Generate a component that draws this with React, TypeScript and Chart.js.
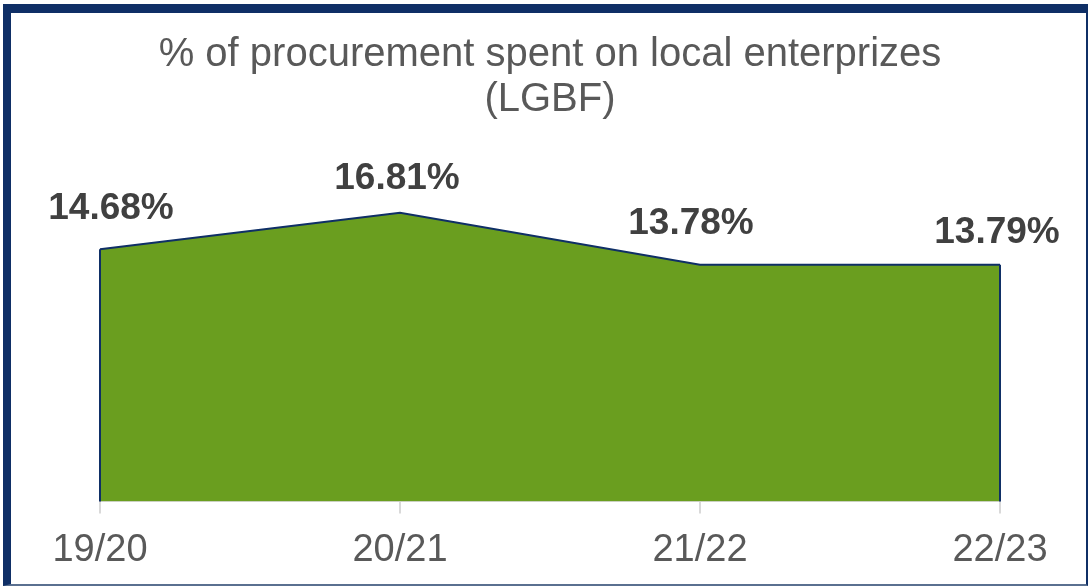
import React, { useEffect, useRef } from "react";
import { Chart, registerables } from "chart.js";

Chart.register(...registerables);

const categories = ["19/20", "20/21", "21/22", "22/23"];
const values = [14.68, 16.81, 13.78, 13.79];
const valueLabels = ["14.68%", "16.81%", "13.78%", "13.79%"];
const titleLines = ["% of procurement spent on local enterprizes", "(LGBF)"];

const NAVY = "#0f2f66";
const GREEN = "#6a9e1f";
const LABEL_DX = [11, -3, -9, -3];
const LABEL_DY = [-41, -34, -41, -32];

const areaExtras = {
  id: "areaExtras",
  afterDatasetsDraw(chart: any) {
    const meta = chart.getDatasetMeta(0);
    const y0 = chart.scales.y.getPixelForValue(0);
    const ctx = chart.ctx;
    const pts = meta.data;
    ctx.save();
    ctx.strokeStyle = NAVY;
    ctx.lineWidth = 2;
    ctx.beginPath();
    ctx.moveTo(pts[0].x, pts[0].y);
    ctx.lineTo(pts[0].x, y0);
    ctx.moveTo(pts[pts.length - 1].x, pts[pts.length - 1].y);
    ctx.lineTo(pts[pts.length - 1].x, y0);
    ctx.stroke();
    ctx.fillStyle = "#404040";
    ctx.font = "bold 37px 'Liberation Sans', Arial, sans-serif";
    ctx.textAlign = "center";
    ctx.textBaseline = "middle";
    pts.forEach((p: any, i: number) => {
      ctx.fillText(valueLabels[i], p.x + LABEL_DX[i], p.y + LABEL_DY[i]);
    });
    ctx.restore();
  },
};

export default function App() {
  const ref = useRef<HTMLCanvasElement | null>(null);
  useEffect(() => {
    if (!ref.current) return;
    const chart = new Chart(ref.current, {
      type: "line",
      data: {
        labels: categories,
        datasets: [
          {
            data: values,
            fill: "origin",
            backgroundColor: GREEN,
            borderColor: NAVY,
            borderWidth: 2,
            pointRadius: 0,
            tension: 0,
          },
        ],
      },
      options: {
        animation: false,
        responsive: false,
        layout: { padding: { left: 100, right: 90, top: 0, bottom: 0 } },
        plugins: {
          legend: { display: false },
          tooltip: { enabled: false },
          title: {
            display: true,
            text: titleLines,
            color: "#595959",
            font: { family: "'Liberation Sans', Arial, sans-serif", size: 40, weight: "normal", lineHeight: 1.125 },
            padding: { top: 32, bottom: 36 },
          },
        },
        scales: {
          x: {
            type: "category",
            offset: false,
            grid: {
              display: true,
              drawOnChartArea: false,
              drawTicks: true,
              tickLength: 12,
              color: "#d9d9d9",
              lineWidth: 2,
            },
            border: { display: true, color: "#d9d9d9", width: 2 },
            ticks: {
              color: "#595959",
              font: { family: "'Liberation Sans', Arial, sans-serif", size: 38 },
              padding: 14,
              maxRotation: 0,
              autoSkip: false,
            },
          },
          y: {
            display: false,
            min: 0,
            max: 20,
          },
        },
      },
      plugins: [areaExtras],
    });
    return () => chart.destroy();
  }, []);
  return (
    <div style={{ position: "fixed", left: 0, top: 0, width: 1090, height: 587, background: "#fff" }}>
      <canvas ref={ref} width={1090} height={587} style={{ position: "absolute", left: 0, top: 0 }} />
      <div
        style={{
          position: "absolute",
          left: 3,
          top: 4,
          width: 1075,
          height: 571,
          borderLeft: `8px solid ${NAVY}`,
          borderTop: `9px solid ${NAVY}`,
          borderRight: `2px solid ${NAVY}`,
          borderBottom: `2px solid #5a7090`,
          pointerEvents: "none",
        }}
      />
    </div>
  );
}
